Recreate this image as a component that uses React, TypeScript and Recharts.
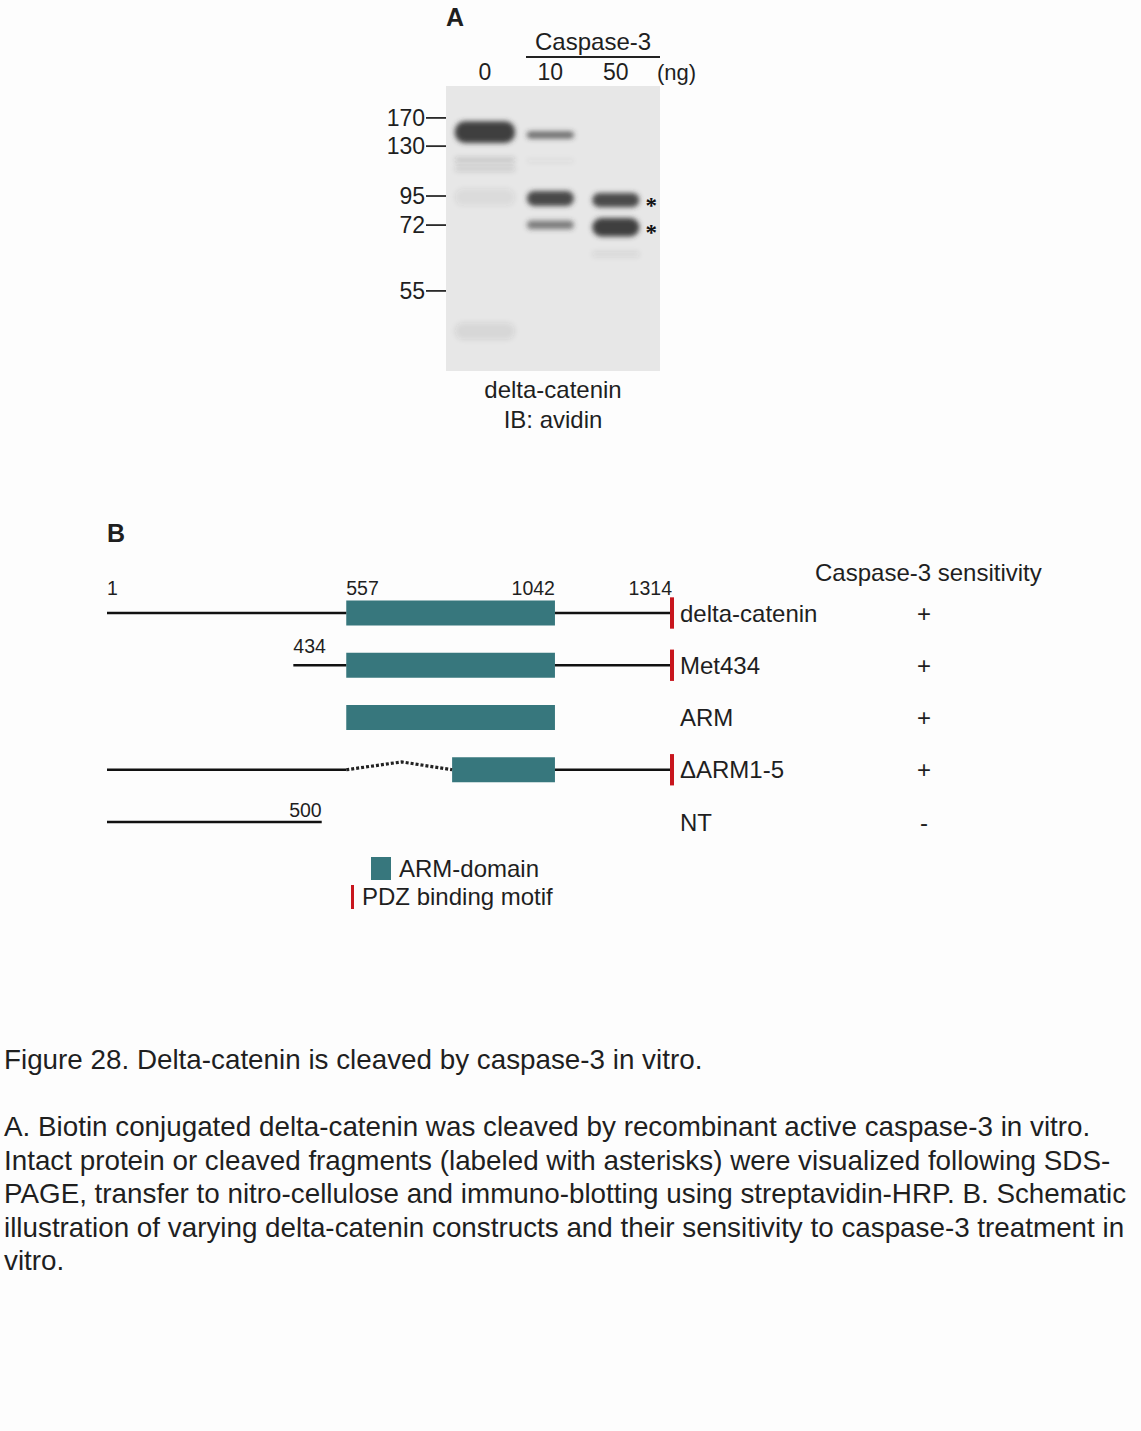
import React from "react";
import {
  ComposedChart,
  XAxis,
  YAxis,
  Scatter,
  ReferenceArea,
  ReferenceLine,
  ReferenceDot,
  Line,
} from "recharts";

const FONT = "'Liberation Sans', Arial, Helvetica, sans-serif";
const TEXT = "#1f1f1f";
const TEAL = "#37777d";
const RED = "#c8161e";

// ---------- Panel A : western blot ----------
const laneLabels = ["0", "10", "50"];
const markerKda = ["170", "130", "95", "72", "55"];
const markerRf = [0.112, 0.211, 0.386, 0.488, 0.719];

const bandLane = [0, 0, 0, 0, 0, 1, 1, 1, 1, 2, 2, 2];
const bandTop = [0.124, 0.25, 0.28, 0.36, 0.83, 0.16, 0.255, 0.368, 0.472, 0.375, 0.463, 0.58];
const bandBottom = [0.2, 0.268, 0.3, 0.42, 0.89, 0.184, 0.27, 0.421, 0.503, 0.425, 0.528, 0.6];
const bandIntensity = [0.95, 0.18, 0.14, 0.07, 0.09, 0.7, 0.05, 0.9, 0.6, 0.88, 0.95, 0.09];
const cleavedRf = [0.4, 0.495];

// ---------- Panel B : constructs ----------
const constructNames = ["delta-catenin", "Met434", "ARM", "\u0394ARM1-5", "NT"];
const sensitivity = ["+", "+", "+", "+", "-"];
const segRow = [0, 0, 1, 1, 3, 3, 4];
const segStart = [1, 1042, 434, 1042, 1, 1042, 1];
const segEnd = [557, 1314, 557, 1314, 557, 1314, 500];
const armRow = [0, 1, 2, 3];
const armStart = [557, 557, 557, 803];
const armEnd = [1042, 1042, 1042, 1042];
const pdzRow = [0, 1, 3];
const pdzPos = [1314, 1314, 1314];
const deletionPos = [557, 686, 803];
const deletionRow = [3, 2.85, 3];
const posLabelText = ["1", "557", "1042", "1314", "434", "500"];
const posLabelPos = [1, 557, 1042, 1314, 434, 500];
const posLabelRow = [-0.48, -0.48, -0.48, -0.48, 0.63, 3.77];
const posLabelAnchor = ["start", "start", "end", "end", "start", "end"];

const captionTitle = "Figure 28. Delta-catenin is cleaved by caspase-3 in vitro.";
const captionLines = [
  "A. Biotin conjugated delta-catenin was cleaved by recombinant active caspase-3 in vitro.",
  "Intact protein or cleaved fragments (labeled with asterisks) were visualized following SDS-",
  "PAGE, transfer to nitro-cellulose and immuno-blotting using streptavidin-HRP. B. Schematic",
  "illustration of varying delta-catenin constructs and their sensitivity to caspase-3 treatment in",
  "vitro.",
];

const laneHalf = [0.46, 0.36, 0.36];

const bands = bandLane.map((lane, i) => ({
  lane,
  top: bandTop[i],
  bottom: bandBottom[i],
  intensity: bandIntensity[i],
}));

const segments = segRow.map((row, i) => ({ row, start: segStart[i], end: segEnd[i] }));
const armBoxes = armRow.map((row, i) => ({ row, start: armStart[i], end: armEnd[i] }));
const deletionData = deletionPos.map((pos, i) => ({ pos, row: deletionRow[i] }));
const posLabels = posLabelText.map((text, i) => ({
  text,
  pos: posLabelPos[i],
  row: posLabelRow[i],
  anchor: posLabelAnchor[i],
}));

const Band = (props: any) => {
  const { x, y, width, height, intensity, id } = props;
  const fid = `bandblur-${id}`;
  return (
    <g>
      <defs>
        <filter id={fid} x="-30%" y="-200%" width="160%" height="500%">
          <feGaussianBlur stdDeviation="2.8" />
        </filter>
      </defs>
      <rect
        x={x}
        y={y}
        width={width}
        height={height}
        rx={Math.min(height / 2, 10)}
        fill="#363636"
        fillOpacity={intensity}
        filter={`url(#${fid})`}
      />
    </g>
  );
};

const abs = (left: number, top: number, extra: any = {}) => ({
  position: "absolute" as const,
  left,
  top,
  fontFamily: FONT,
  color: TEXT,
  whiteSpace: "nowrap" as const,
  ...extra,
});

const ConstructTick = (props: any) => {
  const { x, y, payload } = props;
  const i = payload.value;
  return (
    <g>
      <text x={x + 8} y={y} dy="0.36em" fontSize={24} fill={TEXT} fontFamily={FONT}>
        {constructNames[i]}
      </text>
      <text x={x + 252} y={y} dy="0.36em" fontSize={24} fill={TEXT} fontFamily={FONT} textAnchor="middle">
        {sensitivity[i]}
      </text>
    </g>
  );
};

const PosLabel = (props: any) => {
  const { cx, cy, payload } = props;
  return (
    <text
      x={cx}
      y={cy}
      dy="0.36em"
      fontSize={19.5}
      fill={TEXT}
      fontFamily={FONT}
      textAnchor={payload.anchor}
    >
      {payload.text}
    </text>
  );
};

export default function App() {
  return (
    <div
      style={{
        position: "absolute",
        left: 0,
        top: 0,
        width: 1141,
        height: 1431,
        background: "#fdfdfd",
        overflow: "hidden",
      }}
    >
      {/* Panel A */}
      <div style={{ position: "absolute", left: 0, top: 0 }}>
        <ComposedChart
          width={1141}
          height={440}
          margin={{ top: 56, left: 386, right: 481, bottom: 69 }}
        >
          <XAxis
            type="number"
            dataKey="lane"
            orientation="top"
            domain={[-0.595, 2.675]}
            ticks={[0, 1, 2]}
            interval={0}
            tickFormatter={(v: number) => laneLabels[v]}
            axisLine={false}
            tickLine={false}
            tickSize={4}
            height={30}
            tick={{ fontSize: 23, fill: TEXT, fontFamily: FONT }}
            allowDataOverflow
          />
          <YAxis
            type="number"
            dataKey="rf"
            domain={[0, 1]}
            reversed
            ticks={markerRf}
            interval={0}
            tickFormatter={(v: number) => markerKda[markerRf.indexOf(v)]}
            axisLine={false}
            tickLine={{ stroke: "#2a2a2a", strokeWidth: 1.8 }}
            tickSize={20}
            tickMargin={1}
            width={60}
            tick={{ fontSize: 23, fill: TEXT, fontFamily: FONT }}
            allowDataOverflow
          />
          <ReferenceArea
            x1={-0.595}
            x2={2.675}
            y1={0}
            y2={1}
            fill="#e7e7e7"
            fillOpacity={1}
            stroke="none"
            ifOverflow="visible"
          />
          {bands.map((b, i) => (
            <ReferenceArea
              key={`band-${i}`}
              x1={b.lane - laneHalf[b.lane]}
              x2={b.lane + laneHalf[b.lane]}
              y1={b.top}
              y2={b.bottom}
              ifOverflow="visible"
              shape={(p: any) => <Band {...p} intensity={b.intensity} id={i} />}
            />
          ))}
          {cleavedRf.map((rf, i) => (
            <ReferenceDot
              key={`star-${i}`}
              x={2.54}
              y={rf}
              r={0}
              ifOverflow="visible"
              label={{ value: "*", position: "center", fontSize: 23, fill: "#111", fontWeight: "bold", dy: 5 }}
            />
          ))}
          <Scatter data={[]} dataKey="rf" isAnimationActive={false} />
        </ComposedChart>
      </div>

      <div style={abs(446, 2, { fontSize: 25, fontWeight: "bold", lineHeight: "30px" })}>A</div>
      <div style={abs(535, 27, { fontSize: 24, lineHeight: "30px" })}>Caspase-3</div>
      <div style={{ position: "absolute", left: 526, top: 56, width: 134, height: 2, background: "#222" }} />
      <div style={abs(657, 58, { fontSize: 22, lineHeight: "30px" })}>(ng)</div>
      <div style={abs(453, 375, { fontSize: 24, lineHeight: "30px", width: 200, textAlign: "center" })}>
        delta-catenin
      </div>
      <div style={abs(453, 405, { fontSize: 24, lineHeight: "30px", width: 200, textAlign: "center" })}>
        IB: avidin
      </div>

      {/* Panel B */}
      <div style={abs(107, 518, { fontSize: 25, fontWeight: "bold", lineHeight: "30px" })}>B</div>
      <div style={abs(815, 558, { fontSize: 24, lineHeight: "30px" })}>Caspase-3 sensitivity</div>

      <div style={{ position: "absolute", left: 0, top: 0 }}>
        <ComposedChart
          width={1141}
          height={900}
          margin={{ top: 560.75, left: 107, right: 169, bottom: 25.75 }}
        >
          <XAxis type="number" dataKey="pos" domain={[1, 1314]} hide allowDataOverflow />
          <YAxis
            type="number"
            dataKey="row"
            orientation="right"
            domain={[-1, 5]}
            reversed
            ticks={[0, 1, 2, 3, 4]}
            interval={0}
            tick={<ConstructTick />}
            tickLine={false}
            axisLine={false}
            tickSize={0}
            tickMargin={0}
            width={300}
            allowDataOverflow
          />
          {segments.map((s, i) => (
            <ReferenceLine
              key={`seg-${i}`}
              segment={[
                { x: s.start, y: s.row },
                { x: s.end, y: s.row },
              ]}
              stroke="#111"
              strokeWidth={2.6}
              ifOverflow="visible"
            />
          ))}
          {armBoxes.map((b, i) => (
            <ReferenceArea
              key={`arm-${i}`}
              x1={b.start}
              x2={b.end}
              y1={b.row - 0.24}
              y2={b.row + 0.24}
              fill={TEAL}
              fillOpacity={1}
              stroke="none"
              ifOverflow="visible"
            />
          ))}
          {pdzRow.map((row, i) => (
            <ReferenceLine
              key={`pdz-${i}`}
              segment={[
                { x: pdzPos[i], y: row - 0.3 },
                { x: pdzPos[i], y: row + 0.3 },
              ]}
              stroke={RED}
              strokeWidth={4}
              ifOverflow="visible"
            />
          ))}
          <Line
            data={deletionData}
            dataKey="row"
            type="linear"
            stroke="#222"
            strokeWidth={3.2}
            strokeDasharray="3 2"
            dot={false}
            activeDot={false}
            isAnimationActive={false}
          />
          <Scatter data={posLabels} dataKey="row" shape={<PosLabel />} isAnimationActive={false} />
        </ComposedChart>
      </div>

      {/* Legend */}
      <div style={{ position: "absolute", left: 371, top: 857, width: 20, height: 23, background: TEAL }} />
      <div style={abs(399, 854, { fontSize: 24, lineHeight: "30px" })}>ARM-domain</div>
      <div style={{ position: "absolute", left: 351, top: 885, width: 3, height: 24, background: RED }} />
      <div style={abs(362, 882, { fontSize: 24, lineHeight: "30px" })}>PDZ binding motif</div>

      {/* Caption */}
      <div style={abs(4, 1043, { fontSize: 27.8, lineHeight: "34px" })}>{captionTitle}</div>
      {captionLines.map((t, i) => (
        <div key={i} style={abs(4, 1110 + i * 33.5, { fontSize: 27.8, lineHeight: "34px" })}>
          {t}
        </div>
      ))}
    </div>
  );
}
